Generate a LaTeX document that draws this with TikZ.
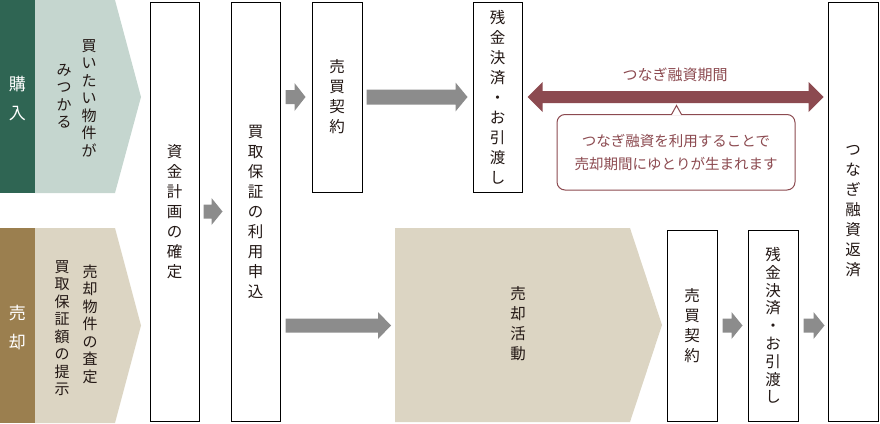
\documentclass[tikz,border=0pt]{standalone}
\usepackage{fontspec}
\newfontfamily\jp{Noto Sans CJK JP}
\usetikzlibrary{calc}
\definecolor{dkgreen}{HTML}{2F6553}
\definecolor{ltgreen}{HTML}{C5D6CF}
\definecolor{dkbrown}{HTML}{9B7F4F}
\definecolor{ltbeige}{HTML}{DCD5C3}
\definecolor{arrgray}{HTML}{8C8C8C}
\definecolor{maroon}{HTML}{8C4A50}
\definecolor{ink}{HTML}{231815}
\newcommand\blkarrow[5]{%
  \fill[arrgray] let \p1=#1, \p2=#2 in
    (\x1,\y1+#3) -- (\x2-#5,\y1+#3) -- (\x2-#5,\y1+#4) -- (\x2,\y1)
    -- (\x2-#5,\y1-#4) -- (\x2-#5,\y1-#3) -- (\x1,\y1-#3) -- cycle;}
\begin{document}
\begin{tikzpicture}[x=1pt,y=-1pt,
  stepbox/.style={draw=black, line width=1pt, fill=white, inner sep=0pt,
    align=center, text=ink, font=\jp\fontsize{15.5}{20}\selectfont},
  vt/.style={align=center, inner sep=0pt, text=ink, font=\jp\fontsize{15}{17.5}\selectfont},
  sidelabel/.style={align=center, inner sep=0pt, text=white, font=\jp\fontsize{17}{29}\selectfont},
  calloutbox/.style={draw=maroon, line width=1pt, fill=white, rounded corners=8pt,
    align=center, text=maroon, font=\jp\fontsize{14.5}{23}\selectfont, inner sep=0pt}
]
\useasboundingbox (0,0) rectangle (880,423);

% left bands
\fill[dkgreen] (0,0) rectangle (35,193);
\fill[ltgreen] (35,0) -- (115,0) -- (141,97) -- (115,193) -- (35,193) -- cycle;
\fill[dkbrown] (0,228) rectangle (35,423);
\fill[ltbeige] (35,228) -- (115,228) -- (141,325.5) -- (115,423) -- (35,423) -- cycle;

\node[sidelabel] (buy) at (17.5,99) {購\\入};
\node[sidelabel] (sell) at (17.5,327.5) {売\\却};
\node[vt] (buyA) at (89,98) {買\\い\\た\\い\\物\\件\\が};
\node[vt] (buyB) at (64,96) {み\\つ\\か\\る};
\node[vt] (sellA) at (90,324) {売\\却\\物\\件\\の\\査\\定};
\node[vt] (sellB) at (62,328) {買\\取\\保\\証\\額\\の\\提\\示};

% sale activity chevron
\fill[ltbeige] (395,228) -- (630,228) -- (662,325) -- (630,422) -- (395,422) -- cycle;
\node[stepbox, draw=none, fill=none] (sale) at (518,324) {売\\却\\活\\動};
\coordinate (saleW) at (391,325.5);

% boxes
\node[stepbox, minimum width=49pt, minimum height=419pt] (b1) at (174.5,211.5) {資\\金\\計\\画\\の\\確\\定};
\node[stepbox, minimum width=49pt, minimum height=419pt] (b2) at (255.5,211.5) {買\\取\\保\\証\\の\\利\\用\\申\\込};
\node[stepbox, minimum width=50pt, minimum height=190pt] (sb1) at (337,97) {売\\買\\契\\約};
\node[stepbox, minimum width=49pt, minimum height=190pt] (zk1) at (497.5,97) {残\\金\\決\\済\\・\\お\\引\\渡\\し};
\node[stepbox, minimum width=50pt, minimum height=419pt] (tr) at (853,211.5) {つ\\な\\ぎ\\融\\資\\返\\済};
\node[stepbox, minimum width=50pt, minimum height=191pt] (sb2) at (692,325.5) {売\\買\\契\\約};
\node[stepbox, minimum width=50pt, minimum height=191pt, font=\jp\fontsize{15.5}{17.8}\selectfont] (zk2) at (773,325.5) {残\\金\\決\\済\\・\\お\\引\\渡\\し};

% gray arrows
\blkarrow{([xshift=4pt]b1.east)}{([xshift=-8pt]b2.west)}{7pt}{13.5pt}{11pt}
\blkarrow{([xshift=5pt]b2.east |- sb1.west)}{([xshift=-6pt]sb1.west)}{7pt}{14pt}{11pt}
\blkarrow{([xshift=4pt]sb1.east)}{([xshift=-5pt]zk1.west)}{7.5pt}{14.5pt}{12pt}
\blkarrow{([xshift=5pt]b2.east |- saleW)}{(saleW)}{7pt}{13.5pt}{13pt}
\blkarrow{([xshift=5pt]sb2.east)}{([xshift=-5pt]zk2.west)}{7pt}{13.5pt}{11pt}
\blkarrow{([xshift=5pt]zk2.east)}{([xshift=-3pt]tr.west |- zk2.east)}{7pt}{13.5pt}{11pt}

% bridge loan period double arrow
\fill[maroon] let \p1=([xshift=5pt]zk1.east), \p2=([xshift=-4pt]tr.west |- zk1.east) in
  (\x1,\y1) -- (\x1+15pt,\y1+15pt) -- (\x1+15pt,\y1+6pt) -- (\x2-15pt,\y1+6pt)
  -- (\x2-15pt,\y1+15pt) -- (\x2,\y1) -- (\x2-15pt,\y1-15pt) -- (\x2-15pt,\y1-6pt)
  -- (\x1+15pt,\y1-6pt) -- (\x1+15pt,\y1-15pt) -- cycle;
\node[text=maroon, inner sep=0pt, font=\jp\fontsize{15}{18}\selectfont] (period) at (675,75) {つなぎ融資期間};

% callout
\node[calloutbox, minimum width=238pt, minimum height=75.5pt] (cb) at (676,152.25)
  {つなぎ融資を利用することで\\売却期間にゆとりが生まれます};
\fill[white] (672,114.6) -- (676.5,106) -- (681,114.6) -- (681,115.3) -- (672,115.3) -- cycle;
\draw[maroon, line width=1pt, line join=miter] (671.5,114.5) -- (676.5,105.5) -- (681.5,114.5);
\end{tikzpicture}
\end{document}
